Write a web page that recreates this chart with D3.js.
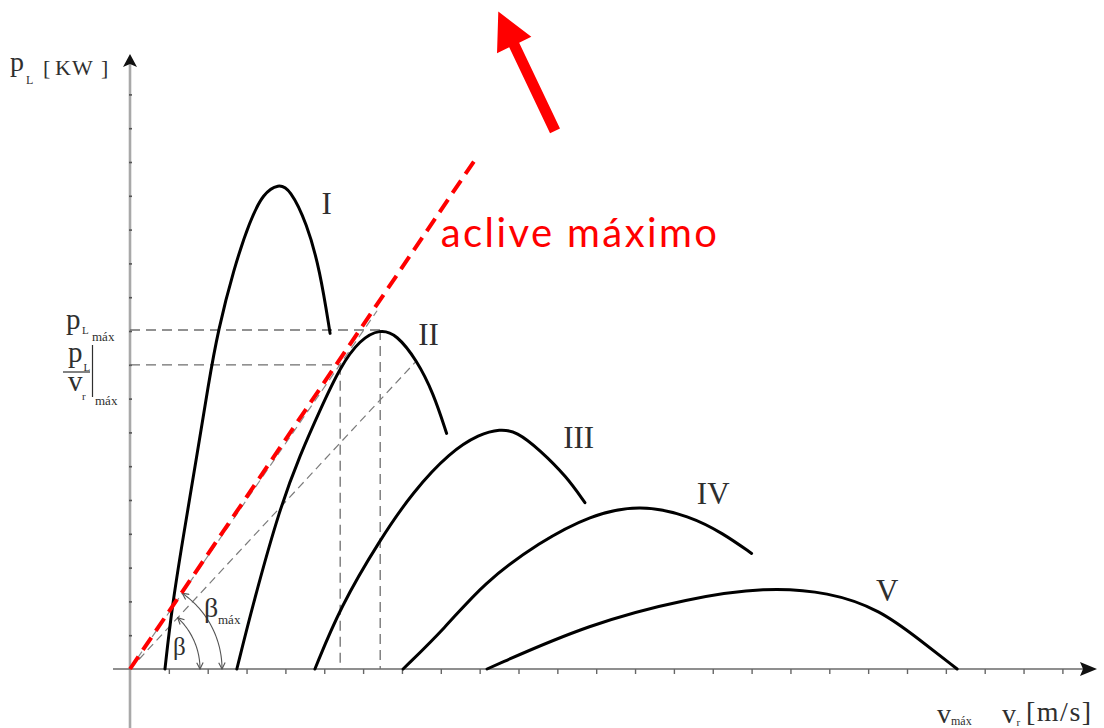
<!DOCTYPE html>
<html>
<head>
<meta charset="utf-8">
<script src="https://cdn.jsdelivr.net/npm/d3@7"></script>
<style>
  body { margin: 0; background: #fff; }
  svg { display: block; }
</style>
</head>
<body>
<svg id="chart" width="1104" height="728"></svg>
<script>
// Power curves p_L(v_r) for five operating states, in axis units
const curveI   = [[0.90,0],[1.07,1.75],[1.37,3.92],[1.72,6.29],[2.02,8.45],[2.27,10.03],[2.66,11.80],[3.09,13.28],[3.43,14.07],[3.82,14.36],[4.12,14.20],[4.55,13.19],[4.89,11.80],[5.15,9.93]];
const curveII  = [[2.75,0],[3.17,1.94],[3.86,4.78],[4.38,6.34],[4.89,7.66],[5.41,8.94],[5.92,9.75],[6.44,10.06],[6.86,9.90],[7.38,9.14],[7.81,8.16],[8.15,6.97]];
const curveIII = [[4.76,0],[5.41,1.83],[6.43,3.82],[7.28,5.24],[8.24,6.42],[9.00,6.95],[9.52,7.10],[9.95,7.03],[10.55,6.48],[11.24,5.69],[11.71,4.92]];
const curveIV  = [[7.03,0],[8.11,1.21],[9.09,2.54],[10.55,3.76],[11.84,4.55],[13.13,4.88],[14.41,4.53],[15.27,4.01],[16.00,3.42]];
const curveV   = [[9.19,0],[11.84,1.35],[14.41,2.10],[16.34,2.42],[18.00,2.28],[19.31,1.75],[20.33,0.86],[21.29,0]];
const curveNames = ["I", "II", "III", "IV", "V"];
// label anchor (left, baseline) for each curve name
const curveLabelPos = [[4.93,13.47],[7.42,9.6],[11.15,6.53],[14.59,4.88],[19.20,2.0]];

// axis ticks
const xTicks = d3.range(1, 25);
const yTicks = d3.range(1, 18);

// reference points
const peakII = [6.44, 10.03];       // p_L máx
const tangentII = [5.41, 9.0];      // p_L / v_r | máx
const betaEnd = [7.36, 9.1];
const betaMaxEnd = [6.36, 10.6];
const slopeLineEnd = [8.96, 15.2];
const slopeLabel = "aclive máximo";
const slopeLabelPos = [8.0, 12.49];
const arrowTail = [10.94, 15.92];
const arrowTip = [9.48, 19.45];

const svg = d3.select("#chart");
const x = d3.scaleLinear().domain([0, 24]).range([130, 1062.4]);
const y = d3.scaleLinear().domain([0, 18]).range([669, 60.6]);
const ox = x(0), oy = y(0);
const serif = "'Liberation Serif','Times New Roman',serif";
const ink = "#2f2f2f";

// ---- axes ----
svg.append("line").attr("x1", ox).attr("x2", ox).attr("y1", 62).attr("y2", 728)
  .attr("stroke", "#a8a8a8").attr("stroke-width", 2.6);
svg.append("line").attr("x1", 113).attr("x2", 1084).attr("y1", oy).attr("y2", oy)
  .attr("stroke", "#6a6a6a").attr("stroke-width", 1.6);
svg.append("path").attr("d", `M${ox},54 L${ox+7},67 L${ox},64 L${ox-7},67 Z`).attr("fill", "#111");
svg.append("path").attr("d", `M1097,${oy} L1080,${oy-7} L1083,${oy} L1080,${oy+7} Z`).attr("fill", "#111");

const xAxis = d3.axisBottom(x).tickValues(xTicks).tickFormat("").tickSizeInner(5).tickSizeOuter(0);
const gx = svg.append("g").attr("transform", `translate(0,${oy})`).call(xAxis);
gx.select(".domain").remove();
gx.selectAll(".tick line").attr("stroke", "#666").attr("stroke-width", 1.4);

const yAxis = d3.axisLeft(y).tickValues(yTicks).tickFormat("").tickSizeInner(3).tickSizeOuter(0);
const gy = svg.append("g").attr("transform", `translate(${ox+2},0)`).call(yAxis);
gy.select(".domain").remove();
gy.selectAll(".tick line").attr("stroke", "#555").attr("stroke-width", 1.6);

// ---- dashed reference lines ----
const dashed = (x1, y1, x2, y2, w, dash, col) =>
  svg.append("line").attr("x1", x1).attr("y1", y1).attr("x2", x2).attr("y2", y2)
    .attr("stroke", col || "#6e6e6e").attr("stroke-width", w).attr("stroke-dasharray", dash);

dashed(x(0), y(peakII[1]), x(peakII[0]), y(peakII[1]), 1.3, "10,6");
dashed(x(peakII[0]), y(peakII[1]), x(peakII[0]), y(0), 1.3, "10,6");
dashed(x(0), y(tangentII[1]), x(tangentII[0]), y(tangentII[1]), 1.3, "10,6");
dashed(x(tangentII[0]), y(tangentII[1]), x(tangentII[0]), y(0), 1.3, "10,6");
dashed(ox, oy, x(betaEnd[0]), y(betaEnd[1]), 1.2, "8,5", "#7a7a7a");
dashed(ox, oy, x(betaMaxEnd[0]), y(betaMaxEnd[1]), 1.2, "8,5", "#8a8a8a");

// ---- curves ----
const line = d3.line().x(d => x(d[0])).y(d => y(d[1])).curve(d3.curveBasis);
[curveI, curveII, curveIII, curveIV, curveV].forEach(c => {
  svg.append("path").attr("d", line(c)).attr("fill", "none")
    .attr("stroke", "#000").attr("stroke-width", 3).attr("stroke-linecap", "round");
});
curveNames.forEach((n, i) => {
  svg.append("text").attr("x", x(curveLabelPos[i][0])).attr("y", y(curveLabelPos[i][1]))
    .attr("font-family", serif).attr("font-size", 31).attr("fill", ink).text(n);
});

// ---- angle arcs ----
const defs = svg.append("defs");
defs.append("marker").attr("id", "ah").attr("viewBox", "0 0 10 10").attr("refX", 9).attr("refY", 5)
  .attr("markerWidth", 8).attr("markerHeight", 8).attr("orient", "auto-start-reverse")
  .attr("markerUnits", "userSpaceOnUse")
  .append("path").attr("d", "M1,1 L9,5 L1,9").attr("fill", "none").attr("stroke", "#555").attr("stroke-width", 1.4);

function angleArc(end, r) {
  const a = Math.atan2(oy - y(end[1]), x(end[0]) - ox);
  const pts = d3.range(0, 41).map(i => {
    const t = a * (1 - i / 40);
    return [ox + r * Math.cos(t), oy - r * Math.sin(t)];
  });
  svg.append("path").attr("d", d3.line()(pts)).attr("fill", "none")
    .attr("stroke", "#555").attr("stroke-width", 1.1)
    .attr("marker-start", "url(#ah)").attr("marker-end", "url(#ah)");
}
angleArc(betaEnd, 70);
angleArc(betaMaxEnd, 92);

svg.append("text").attr("x", 173).attr("y", 655).attr("font-family", serif).attr("font-size", 25).attr("fill", ink).text("β");
svg.append("text").attr("x", 204).attr("y", 617).attr("font-family", serif).attr("font-size", 28).attr("fill", ink).text("β");
svg.append("text").attr("x", 218).attr("y", 624).attr("font-family", serif).attr("font-size", 13).attr("fill", ink).text("máx");

// ---- steepest slope line and annotation ----
svg.append("line").attr("x1", ox).attr("y1", oy).attr("x2", x(slopeLineEnd[0])).attr("y2", y(slopeLineEnd[1]))
  .attr("stroke", "#ff0000").attr("stroke-width", 4).attr("stroke-dasharray", "15,8");

svg.append("text").attr("x", x(slopeLabelPos[0])).attr("y", y(slopeLabelPos[1]))
  .attr("font-family", "Lato, 'Open Sans', sans-serif").attr("font-size", 40)
  .attr("letter-spacing", 2.4).attr("fill", "#ff0000").text(slopeLabel);

(function () {
  const tx = x(arrowTail[0]), ty = y(arrowTail[1]);
  const hx = x(arrowTip[0]), hy = y(arrowTip[1]);
  const L = Math.hypot(hx - tx, hy - ty);
  const ux = (hx - tx) / L, uy = (hy - ty) / L;   // along
  const nx = -uy, ny = ux;                         // normal
  const sw = 5.5, hw = 19, hl = 37;
  const bx = hx - ux * hl, by = hy - uy * hl;
  const p = [
    [tx + nx * sw, ty + ny * sw], [bx + nx * sw, by + ny * sw], [bx + nx * hw, by + ny * hw],
    [hx, hy],
    [bx - nx * hw, by - ny * hw], [bx - nx * sw, by - ny * sw], [tx - nx * sw, ty - ny * sw]
  ];
  svg.append("path").attr("d", "M" + p.map(q => q.join(",")).join("L") + "Z").attr("fill", "#ff0000");
})();

// ---- axis titles ----
const txt = (s, xx, yy, size, extra) => {
  const t = svg.append("text").attr("x", xx).attr("y", yy).attr("font-family", serif)
    .attr("font-size", size).attr("fill", ink).text(s);
  if (extra) extra(t);
  return t;
};
// y title
txt("p", 10, 71, 28);
txt("L", 26, 84, 12);
txt("[", 43, 75, 22);
txt("K", 55, 75, 22);
txt("W", 72, 75, 22);
txt("]", 101, 75, 22);

// p_L máx tick label
txt("p", 66, 329, 29);
txt("L", 82, 334, 11);
txt("máx", 92, 341, 13);
// p_L / v_r | máx tick label
txt("p", 68, 362, 29);
txt("L", 83.5, 371, 11);
svg.append("line").attr("x1", 63).attr("x2", 90).attr("y1", 372).attr("y2", 372).attr("stroke", ink).attr("stroke-width", 1.2);
txt("v", 68, 391, 29);
txt("r", 82, 400, 11);
svg.append("line").attr("x1", 92.5).attr("x2", 92.5).attr("y1", 345).attr("y2", 397).attr("stroke", ink).attr("stroke-width", 1.2);
txt("máx", 95, 405, 13);

// x title
txt("v", 937, 723, 28);
txt("máx", 951, 725, 12);
txt("v", 1002, 723, 28);
txt("r", 1016.5, 726, 11);
txt("[m/s]", 1026, 721, 28, t => t.attr("letter-spacing", 1.5));
</script>
</body>
</html>
